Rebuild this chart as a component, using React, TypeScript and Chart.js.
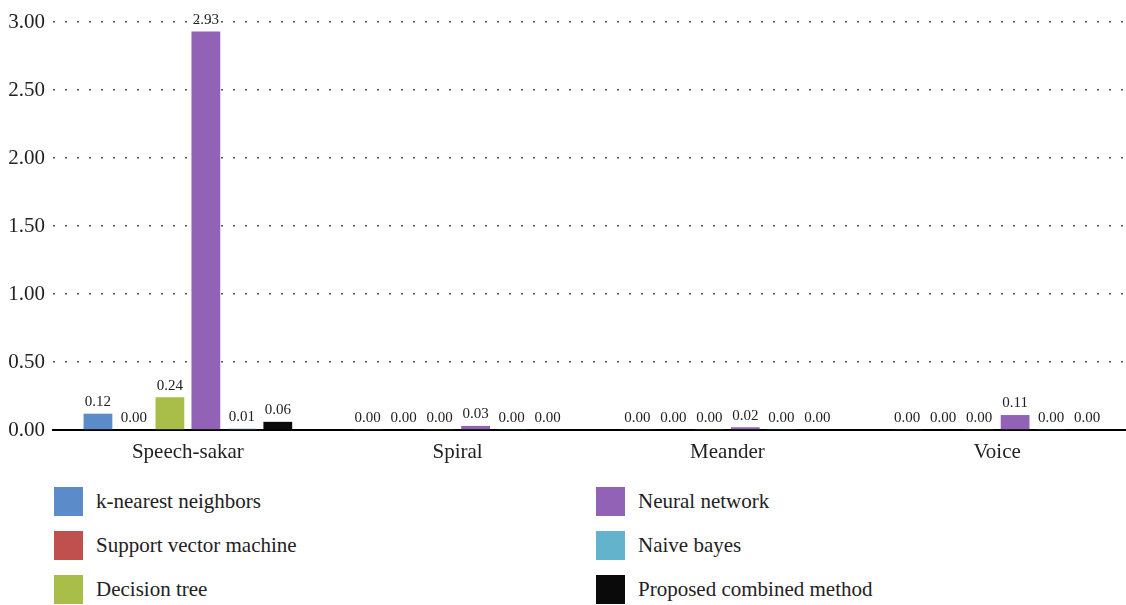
import React, { useEffect, useRef } from "react";
import { Chart, registerables } from "chart.js";

Chart.register(...registerables);

const categories = ["Speech-sakar", "Spiral", "Meander", "Voice"];
const seriesNames = [
  "k-nearest neighbors",
  "Support vector machine",
  "Decision tree",
  "Neural network",
  "Naive bayes",
  "Proposed combined method",
];
const knn = [0.12, 0.0045, 0.0045, 0.0045];
const svm = [0.0, 0.0, 0.0, 0.0];
const dtree = [0.24, 0.0045, 0.0045, 0.0045];
const neural = [2.93, 0.03, 0.02, 0.11];
const naive = [0.01, 0.0045, 0.0045, 0.0045];
const combined = [0.06, 0.0045, 0.0045, 0.0045];
const colors = ["#5b8bc8", "#c0504d", "#a9be48", "#9262b6", "#62b3cb", "#0a0a0a"];
const yTicks = [0, 0.5, 1, 1.5, 2, 2.5, 3];

const FONT = "'Liberation Serif', 'DejaVu Serif', serif";

const labelPlugin = {
  id: "barLabels",
  afterDatasetsDraw(chart: any) {
    const ctx = chart.ctx;
    ctx.save();
    ctx.font = `15px ${FONT}`;
    ctx.fillStyle = "#222";
    ctx.textAlign = "center";
    ctx.textBaseline = "bottom";
    chart.data.datasets.forEach((ds: any, i: number) => {
      const meta = chart.getDatasetMeta(i);
      meta.data.forEach((el: any, j: number) => {
        const v = ds.data[j];
        ctx.fillText(v.toFixed(2), el.x, el.y - 4);
      });
    });
    ctx.restore();
  },
};

export default function App() {
  const ref = useRef<HTMLCanvasElement | null>(null);
  useEffect(() => {
    document.documentElement.style.overflow = "hidden";
    document.body.style.margin = "0";
    const allData = [knn, svm, dtree, neural, naive, combined];
    const chart = new Chart(ref.current as HTMLCanvasElement, {
      type: "bar",
      data: {
        labels: categories,
        datasets: seriesNames.map((name, i) => ({
          label: name,
          data: allData[i],
          backgroundColor: colors[i],
          borderWidth: 0,
          categoryPercentage: 0.8,
          barPercentage: 0.8,
        })),
      },
      options: {
        animation: false,
        responsive: false,
        maintainAspectRatio: false,
        layout: { padding: { top: 22, right: 0, left: 0, bottom: 0 } },
        plugins: { legend: { display: false }, tooltip: { enabled: false } },
        scales: {
          x: {
            grid: { display: false },
            border: { display: true, color: "#000", width: 2 },
            ticks: {
              color: "#222",
              font: { family: FONT, size: 21 },
              padding: 2,
            },
            afterFit(scale: any) {
              scale.height = 40;
            },
          },
          y: {
            min: 0,
            max: 3,
            afterBuildTicks(scale: any) {
              scale.ticks = yTicks.map((v) => ({ value: v }));
            },
            border: { display: false, dash: [2, 10] },
            grid: {
              color: "#555",
              lineWidth: 1.5,
              tickLength: 0,
              drawTicks: false,
            },
            ticks: {
              color: "#222",
              font: { family: FONT, size: 21 },
              padding: 8,
              callback: (v: any) => Number(v).toFixed(2),
            },
            afterFit(scale: any) {
              scale.width = 53;
            },
          },
        },
      },
      plugins: [labelPlugin],
    } as any);
    return () => chart.destroy();
  }, []);

  const legendItem = (i: number) => (
    <div
      key={i}
      style={{
        position: "absolute",
        left: i < 3 ? 54 : 596,
        top: 487 + (i % 3) * 44,
        height: 29,
        display: "flex",
        alignItems: "center",
        fontFamily: FONT,
        fontSize: 21,
        color: "#222",
        whiteSpace: "nowrap",
      }}
    >
      <div style={{ width: 29, height: 29, background: colors[i], marginRight: 13 }} />
      <span>{seriesNames[i]}</span>
    </div>
  );

  return (
    <div style={{ position: "fixed", left: 0, top: 0, width: 1126, height: 605, overflow: "hidden", background: "#fff" }}>
      <canvas ref={ref} width={1132} height={470} style={{ position: "absolute", left: 0, top: 0, width: 1132, height: 470 }} />
      {seriesNames.map((_, i) => legendItem(i))}
    </div>
  );
}
